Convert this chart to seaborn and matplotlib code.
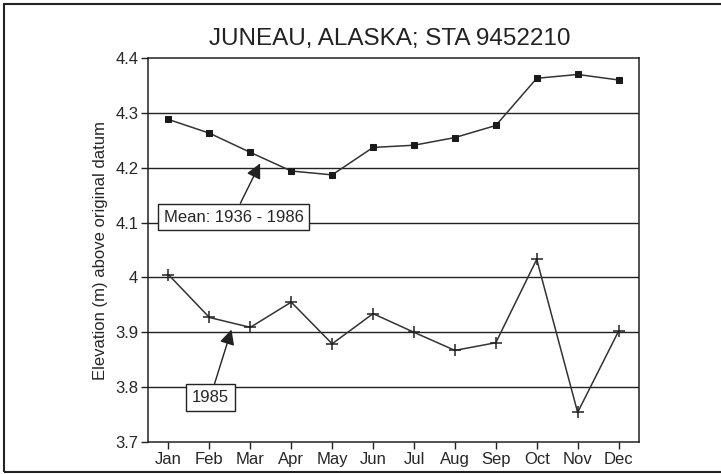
import matplotlib
matplotlib.use("Agg")
import matplotlib.pyplot as plt
import numpy as np
import pandas as pd
import seaborn as sns
from matplotlib.patches import Rectangle

months = ['Jan', 'Feb', 'Mar', 'Apr', 'May', 'Jun', 'Jul', 'Aug', 'Sep', 'Oct', 'Nov', 'Dec']
mean_1936_1986 = [4.288, 4.263, 4.228, 4.194, 4.187, 4.237, 4.241, 4.255, 4.277, 4.363, 4.370, 4.360]
year_1985 = [4.005, 3.927, 3.909, 3.955, 3.879, 3.934, 3.900, 3.867, 3.881, 4.033, 3.754, 3.902]
y_ticks = [3.7, 3.8, 3.9, 4.0, 4.1, 4.2, 4.3, 4.4]
y_tick_labels = ['3.7', '3.8', '3.9', '4', '4.1', '4.2', '4.3', '4.4']


def main():
    sns.set_style("white")
    plt.rcParams['font.family'] = ['Liberation Sans Narrow', 'Liberation Sans', 'DejaVu Sans']

    fig = plt.figure(figsize=(7.21, 4.74), dpi=100)
    ax = fig.add_axes([0.2053, 0.0675, 0.681, 0.8101])

    df = pd.DataFrame({'Month': np.arange(12), 'Mean': mean_1936_1986, '1985': year_1985})

    for y in y_ticks[1:-1]:
        ax.axhline(y, color='#222222', lw=1.0, zorder=1)

    sns.lineplot(x='Month', y='Mean', data=df, ax=ax, color='#333333', lw=1.1,
                 marker='s', markersize=5, markerfacecolor='#1a1a1a',
                 markeredgecolor='#1a1a1a', zorder=3)
    sns.lineplot(x='Month', y='1985', data=df, ax=ax, color='#333333', lw=1.1,
                 marker='+', markersize=8, markeredgewidth=1.1,
                 markeredgecolor='#222222', zorder=3)

    ax.set_xlim(-0.5, 11.5)
    ax.set_ylim(3.7, 4.4)
    ax.set_xticks(np.arange(12))
    ax.set_xticklabels(months, fontsize=12)
    ax.set_yticks(y_ticks)
    ax.set_yticklabels(y_tick_labels, fontsize=12)
    ax.tick_params(axis='both', direction='out', length=5, width=1, color='#222222',
                   bottom=True, left=True, pad=2)
    for s in ax.spines.values():
        s.set_color('#222222')
        s.set_linewidth(1.1)

    ax.set_xlabel('')
    ax.set_ylabel('Elevation (m) above original datum', fontsize=12, labelpad=5)

    fig.text(0.541, 0.918, 'JUNEAU, ALASKA; STA 9452210', ha='center', va='center',
             fontsize=17.5, color='#222222')

    arrow = dict(arrowstyle='-|>,head_length=0.5,head_width=0.25', color='#222222', lw=1.0,
                 mutation_scale=18, shrinkA=0, shrinkB=0)
    box = dict(boxstyle='square,pad=0.35', fc='white', ec='#222222', lw=1.0)
    ax.annotate('Mean: 1936 - 1986', xy=(2.24, 4.208), xytext=(1.59, 4.110),
                textcoords='data', ha='center', va='center', fontsize=12,
                bbox=box, arrowprops=arrow, zorder=5)
    ax.annotate('1985', xy=(1.54, 3.905), xytext=(1.02, 3.781),
                textcoords='data', ha='center', va='center', fontsize=12,
                bbox=box, arrowprops=arrow, zorder=5)

    fig.patches.append(Rectangle((0.006, 0.004), 1.2, 0.988, transform=fig.transFigure,
                                 fill=False, ec='#222222', lw=1.5))

    plt.savefig('out.png', dpi=100)
    plt.close()


if __name__ == "__main__":
    main()
